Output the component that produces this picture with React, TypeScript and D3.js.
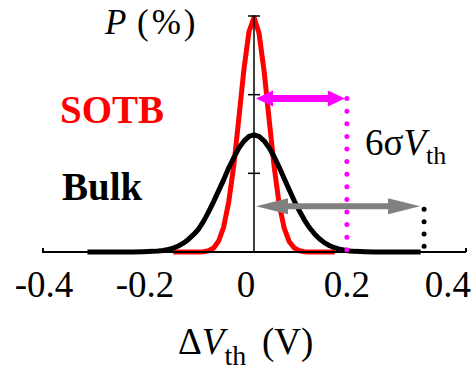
import React from 'react';
import * as d3 from 'd3';

// ΔVth (V) sample points and P (%) values
const sotbX = [-0.16, -0.15, -0.14, -0.13, -0.12, -0.11, -0.1, -0.09, -0.08, -0.07, -0.06, -0.05, -0.04, -0.03, -0.02, -0.01, 0,
  0.01, 0.02, 0.03, 0.04, 0.05, 0.06, 0.07, 0.08, 0.09, 0.1, 0.11, 0.12, 0.13, 0.14, 0.15, 0.16];
const sotbP = [0, 0, 0, 0, 0, 0, 0.02, 0.08, 0.25, 0.7, 1.6, 3.2, 5.5, 8.5, 11.6, 14.0, 14.9,
  13.9, 11.5, 8.4, 5.4, 3.0, 1.5, 0.65, 0.25, 0.08, 0.02, 0, 0, 0, 0, 0, 0];

const bulkX = [-0.33, -0.3, -0.27, -0.24, -0.22, -0.2, -0.19, -0.18, -0.17, -0.16, -0.15, -0.14, -0.13, -0.12, -0.11, -0.1,
  -0.09, -0.08, -0.07, -0.06, -0.05, -0.04, -0.03, -0.02, -0.01, 0, 0.01, 0.02, 0.03, 0.04, 0.05, 0.06, 0.07, 0.08,
  0.09, 0.1, 0.11, 0.12, 0.13, 0.14, 0.15, 0.16, 0.17, 0.18, 0.19, 0.2, 0.22, 0.24, 0.27, 0.3, 0.33];
const bulkP = [0, 0, 0, 0, 0.02, 0.04, 0.06, 0.1, 0.16, 0.25, 0.38, 0.56, 0.8, 1.1, 1.45, 1.95,
  2.55, 3.2, 3.9, 4.6, 5.35, 6.0, 6.6, 7.05, 7.35, 7.45, 7.35, 7.07, 6.63, 6.05, 5.38, 4.66, 3.94, 3.24,
  2.6, 2.03, 1.54, 1.15, 0.83, 0.58, 0.4, 0.27, 0.17, 0.11, 0.07, 0.04, 0.02, 0, 0, 0, 0];

const xTicks = [-0.4, -0.2, 0, 0.2, 0.4];
const yTicks = [5, 10, 15];

// 6σ annotations: end of the arrow (V) and its height (P)
const sotbSpread = { x: 0.184, p: 9.75 };
const bulkSpread = { x: 0.333, p: 2.9 };

const font = 'Liberation Serif, DejaVu Serif, serif';

export default function App() {
  const x = d3.scaleLinear().domain([-0.42, 0.42]).range([42, 466]);
  const y = d3.scaleLinear().domain([0, 15]).range([252, 16]);

  const line = d3
    .line<[number, number]>()
    .x((d) => x(d[0]))
    .y((d) => y(d[1]));

  const sotbPath = line(sotbX.map((v, i) => [v, sotbP[i]]));
  const bulkPath = line(bulkX.map((v, i) => [v, bulkP[i]]));

  const x0 = x(0);

  const arrow = (x1: number, x2: number, yy: number, head: number, half: number, shaft: number) => {
    const a = x1 + 2;
    const b = x2;
    return [
      `M${a},${yy}`,
      `L${a + head},${yy - half}`,
      `L${a + head},${yy - shaft / 2}`,
      `L${b - head},${yy - shaft / 2}`,
      `L${b - head},${yy - half}`,
      `L${b},${yy}`,
      `L${b - head},${yy + half}`,
      `L${b - head},${yy + shaft / 2}`,
      `L${a + head},${yy + shaft / 2}`,
      `L${a + head},${yy + half}`,
      'Z',
    ].join(' ');
  };

  const fmt = (t: number) => (t === 0 ? '0' : String(t));

  return (
    <svg
      width={475}
      height={370}
      fontFamily={font}
      style={{ position: 'absolute', left: 0, top: 0, background: '#fff' }}
    >
      {/* curves */}
      <path d={sotbPath || ''} fill="none" stroke="#ff0000" strokeWidth={5} strokeLinejoin="round" />
      <path d={bulkPath || ''} fill="none" stroke="#000" strokeWidth={5} strokeLinejoin="round" />

      {/* x axis */}
      <line x1={42} x2={466} y1={252} y2={252} stroke="#000" strokeWidth={2} />
      <line x1={43} x2={43} y1={248} y2={252} stroke="#000" strokeWidth={2} />
      <line x1={466} x2={466} y1={248} y2={252} stroke="#000" strokeWidth={2} />
      {xTicks.map((t) => (
        <text key={t} x={x(t) - 8} y={297} fontSize={37} textAnchor="middle">
          {fmt(t)}
        </text>
      ))}

      {/* y axis */}
      <line x1={x0} x2={x0} y1={y(15)} y2={252} stroke="#000" strokeWidth={1.5} />
      {yTicks.map((t) => (
        <line key={t} x1={x0 - 6} x2={x0 + 6} y1={y(t)} y2={y(t)} stroke="#000" strokeWidth={1.5} />
      ))}

      {/* 6σ arrows */}
      <path d={arrow(x0, x(sotbSpread.x) - 2, y(sotbSpread.p), 17, 8, 7)} fill="#ff00ff" />
      <line
        x1={x(sotbSpread.x)}
        x2={x(sotbSpread.x)}
        y1={y(sotbSpread.p)}
        y2={250}
        stroke="#ff00ff"
        strokeWidth={5}
        strokeLinecap="round"
        strokeDasharray="0 12.6"
      />
      <path d={arrow(x0, x(bulkSpread.x) - 2, y(bulkSpread.p), 32, 8, 6)} fill="#808080" />
      <line
        x1={x(bulkSpread.x) + 2}
        x2={x(bulkSpread.x) + 2}
        y1={y(bulkSpread.p) + 3}
        y2={247}
        stroke="#000"
        strokeWidth={5}
        strokeLinecap="round"
        strokeDasharray="0 12.3"
      />

      {/* labels */}
      <text x={105} y={34} fontSize={35} fontStyle="italic">P</text>
      <text x={137} y={34} fontSize={35} letterSpacing={3}>(%)</text>

      <text x={60} y={123} fontSize={39} fontWeight="bold" fill="#ff0000">SOTB</text>
      <text x={62} y={200} fontSize={39} fontWeight="bold">Bulk</text>

      <text x={365} y={155} fontSize={37}>
        6σ<tspan fontStyle="italic">V</tspan>
        <tspan fontSize={26} dy={9}>th</tspan>
      </text>

      <text x={178} y={354} fontSize={37}>
        Δ<tspan fontStyle="italic">V</tspan>
        <tspan fontSize={28} dy={11}>th</tspan>
        <tspan dy={-11} x={262}>(V)</tspan>
      </text>
    </svg>
  );
}
